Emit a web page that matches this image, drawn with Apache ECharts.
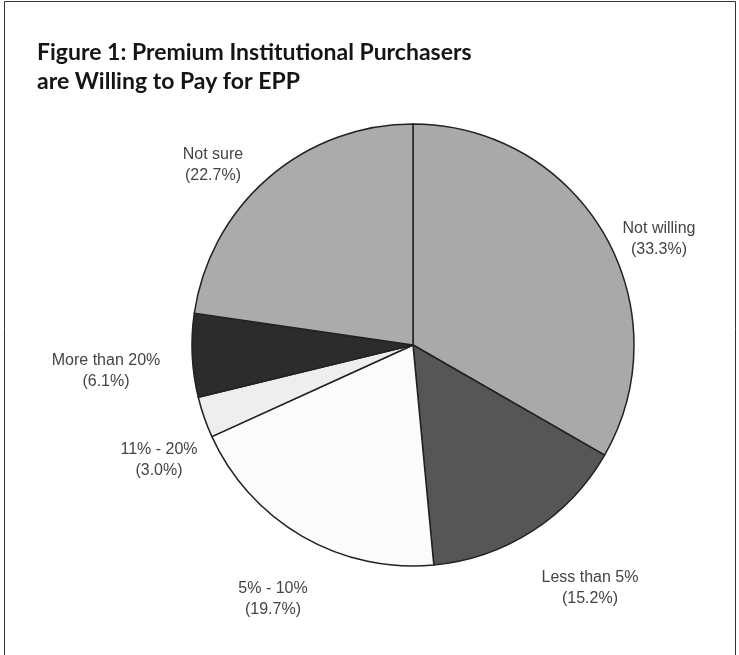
<!DOCTYPE html>
<html>
<head>
<meta charset="utf-8">
<script src="https://cdn.jsdelivr.net/npm/echarts@6/dist/echarts.min.js"></script>
<style>
html,body{margin:0;padding:0;background:#fff;}
#chart{width:739px;height:655px;}
</style>
</head>
<body>
<div id="chart"></div>
<script>
const categories = ['Not willing', 'Less than 5%', '5% - 10%', '11% - 20%', 'More than 20%', 'Not sure'];
const values = [33.3, 15.2, 19.7, 3.0, 6.1, 22.7];
const sliceColors = ['#a9a9a9', '#565656', '#fbfbfb', '#eeeeee', '#2c2c2c', '#ababab'];
const labelCenters = [[659, 239], [590, 588], [273, 599], [159, 460], [106, 371], [213, 165]];

const chart = echarts.init(document.getElementById('chart'));
chart.setOption({
  backgroundColor: '#ffffff',
  animation: false,
  title: {
    text: 'Figure 1: Premium Institutional Purchasers\nare Willing to Pay for EPP',
    left: 32,
    top: 33,
    textStyle: {
      fontFamily: 'Lato',
      fontWeight: 'bold',
      fontSize: 23,
      lineHeight: 29,
      color: '#151515'
    }
  },
  graphic: [{
    type: 'rect',
    shape: { x: 4.5, y: 1.5, width: 731, height: 670 },
    style: { fill: 'none', stroke: '#333', lineWidth: 1 },
    silent: true
  }],
  series: [{
    type: 'pie',
    center: [413, 345],
    radius: 221,
    startAngle: 90,
    clockwise: true,
    data: categories.map((c, i) => ({
      name: c,
      value: values[i],
      itemStyle: { color: sliceColors[i] }
    })),
    itemStyle: { borderColor: '#222', borderWidth: 1.5 },
    label: {
      show: true,
      position: 'outside',
      formatter: p => p.name + '\n(' + p.value.toFixed(1) + '%)',
      fontFamily: 'Liberation Sans, Arial, sans-serif',
      fontSize: 16,
      lineHeight: 21,
      color: '#444',
      align: 'center'
    },
    labelLine: { show: false },
    labelLayout: p => ({
      x: labelCenters[p.dataIndex][0],
      y: labelCenters[p.dataIndex][1],
      align: 'center',
      verticalAlign: 'middle'
    }),
    emphasis: { disabled: true }
  }]
});
</script>
</body>
</html>
